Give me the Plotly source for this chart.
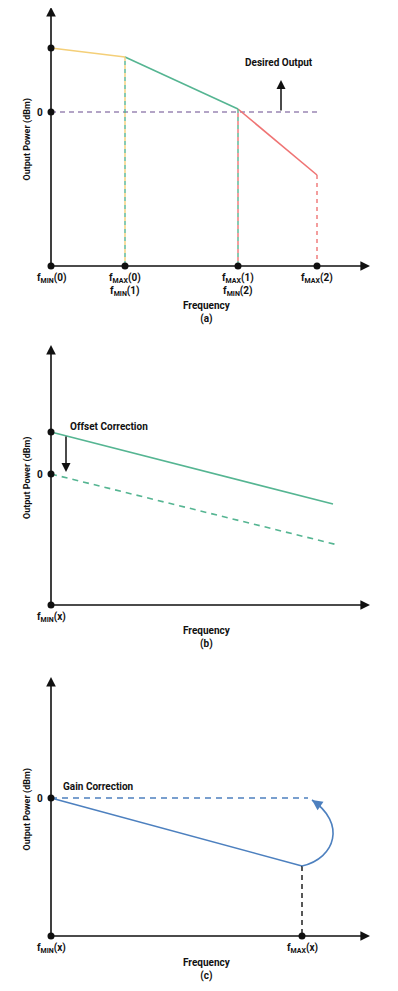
import plotly.graph_objects as go

# ---------------- data ----------------
# Panel (a): piecewise output power vs frequency band edges
freq_a = [0.0, 7.4, 18.7, 26.6]
power_a = [6.4, 5.5, 0.3, -6.3]
labels_a = ["f<sub>MIN</sub>(0)", "f<sub>MAX</sub>(0)<br>f<sub>MIN</sub>(1)",
            "f<sub>MAX</sub>(1)<br>f<sub>MIN</sub>(2)", "f<sub>MAX</sub>(2)"]
desired_level = 0.0
desired_end_a = 26.8
desired_arrow_x = 23.0
desired_arrow_top = 3.2

# Panel (b): offset correction
freq_b = [0.0, 28.2]
power_b = [4.2, -3.0]
freq_b_corr = [0.0, 28.7]
power_b_corr = [0.0, -7.1]
labels_b = ["f<sub>MIN</sub>(x)"]

# Panel (c): gain correction
freq_c = [0.0, 25.1]
power_c = [0.0, -6.8]
freq_c_target = [0.0, 25.7]
power_c_target = [0.0, 0.0]
labels_c = ["f<sub>MIN</sub>(x)", "f<sub>MAX</sub>(x)"]

# ---------------- layout constants ----------------
OFF = 8                     # page body margin
W, H = 398 - 2 * OFF, 991 - 2 * OFF
PX = 10.0                   # pixels per data unit
X0PX = 51 - OFF             # pixel x of frequency origin (figure coords)
XEND = 31.9                 # x-axis arrow tip
panels = [  # figure-pixel top, bottom, y of 0 dBm; axis bottom/top values
    dict(top=0, bot=330 - OFF, zero=112 - OFF, ybot=-15.4, ytop=10.5, name="(a)", tshift=-32),
    dict(top=330 - OFF, bot=660 - OFF, zero=474 - OFF, ybot=-13.1, ytop=12.9, name="(b)", tshift=-18),
    dict(top=660 - OFF, bot=H, zero=798 - OFF, ybot=-13.8, ytop=12.1, name="(c)", tshift=-19),
]

YELLOW = "#F4CF78"
GREEN = "#55B592"
RED = "#EF7474"
PURPLE = "#9A86B4"
BLUE = "#4D80BF"
BLACK = "#111111"
FONT = "Roboto"

fig = go.Figure()
annotations = []
shapes = []

for i, p in enumerate(panels):
    sfx = "" if i == 0 else str(i + 1)
    xa = "xaxis" + sfx
    ya = "yaxis" + sfx
    dom = [1 - p["bot"] / H, 1 - p["top"] / H]
    ylo = (p["zero"] - p["bot"]) / PX
    yhi = (p["zero"] - p["top"]) / PX
    fig.layout[xa] = dict(domain=[0, 1], range=[-X0PX / PX, (W - X0PX) / PX],
                          visible=False, fixedrange=True, anchor="y" + sfx)
    fig.layout[ya] = dict(domain=dom, range=[ylo, yhi], visible=False,
                          fixedrange=True, anchor="x" + sfx)
    xr, yr = "x" + sfx, "y" + sfx
    # axes with arrows
    annotations.append(dict(x=0, y=p["ytop"], ax=0, ay=p["ybot"], xref=xr, yref=yr,
                            axref=xr, ayref=yr, showarrow=True, arrowhead=2,
                            arrowsize=1.2, arrowwidth=1.6, arrowcolor=BLACK, text=""))
    annotations.append(dict(x=XEND, y=p["ybot"], ax=0, ay=p["ybot"], xref=xr, yref=yr,
                            axref=xr, ayref=yr, showarrow=True, arrowhead=2,
                            arrowsize=1.2, arrowwidth=1.6, arrowcolor=BLACK, text=""))
    # y title
    annotations.append(dict(x=-2.4, y=(p["ytop"] + p["ybot"]) / 2 - 0.3, xref=xr, yref=yr,
                            text="<b>Output Power (dBm)</b>", textangle=-90, showarrow=False,
                            font=dict(family=FONT, size=9, color=BLACK)))
    # "0" label
    annotations.append(dict(x=-0.6, y=0, xref=xr, yref=yr, text="<b>0</b>", showarrow=False,
                            xanchor="right", font=dict(family=FONT, size=10, color=BLACK)))
    # x title
    annotations.append(dict(x=15.6, y=p["ybot"], xref=xr, yref=yr,
                            text="<b>Frequency</b><br><b>" + p["name"] + "</b>", showarrow=False,
                            yanchor="top", yshift=p["tshift"],
                            font=dict(family=FONT, size=10, color=BLACK)))

def add_line(xs, ys, color, sfx, dash="solid", width=1.6):
    fig.add_trace(go.Scatter(x=xs, y=ys, mode="lines", xaxis="x" + sfx, yaxis="y" + sfx,
                             line=dict(color=color, width=width, dash=dash),
                             hoverinfo="skip", showlegend=False))

def add_dots(xs, ys, sfx):
    fig.add_trace(go.Scatter(x=xs, y=ys, mode="markers", xaxis="x" + sfx, yaxis="y" + sfx,
                             marker=dict(color=BLACK, size=7), hoverinfo="skip",
                             showlegend=False))

def tick_label(xv, yv, text, sfx):
    annotations.append(dict(x=xv, y=yv, xref="x" + sfx, yref="y" + sfx,
                            text="<b>" + text.replace("<br>", "</b><br><b>") + "</b>",
                            showarrow=False, yanchor="top", yshift=-4,
                            font=dict(family=FONT, size=10, color=BLACK)))

DASH_A = "4px,4px"
DASH_B = "0px,4px,4px,0px"

# ---------------- panel (a) ----------------
pa = panels[0]
add_line([freq_a[0], desired_end_a], [desired_level, desired_level], PURPLE, "", dash="5px,4px", width=1.4)
seg_colors = [YELLOW, GREEN, RED]
for k in range(3):
    add_line(freq_a[k:k + 2], power_a[k:k + 2], seg_colors[k], "")
vert_pairs = [(YELLOW, GREEN), (GREEN, RED), (RED, RED)]
for k in range(1, 4):
    c1, c2 = vert_pairs[k - 1]
    add_line([freq_a[k], freq_a[k]], [power_a[k], pa["ybot"]], c1, "", dash=DASH_A, width=1.4)
    if c2 != c1:
        add_line([freq_a[k], freq_a[k]], [power_a[k], pa["ybot"]], c2, "", dash=DASH_B, width=1.4)
add_dots([0, 0] + freq_a, [power_a[0], desired_level] + [pa["ybot"]] * 4, "")
for k, lab in enumerate(labels_a):
    tick_label(freq_a[k], pa["ybot"], lab, "")
annotations.append(dict(x=desired_arrow_x, y=desired_arrow_top, ax=desired_arrow_x,
                        ay=desired_level, xref="x", yref="y", axref="x", ayref="y",
                        showarrow=True, arrowhead=2, arrowsize=1.2, arrowwidth=1.5,
                        arrowcolor=BLACK, text=""))
annotations.append(dict(x=desired_arrow_x - 0.2, y=desired_arrow_top + 1.0, xref="x", yref="y",
                        text="<b>Desired Output</b>", showarrow=False, yanchor="bottom",
                        font=dict(family=FONT, size=10, color=BLACK)))

# ---------------- panel (b) ----------------
pb = panels[1]
add_line(freq_b_corr, power_b_corr, GREEN, "2", dash="6px,5px", width=1.6)
add_line(freq_b, power_b, GREEN, "2")
add_dots([0, 0, 0], [power_b[0], 0, pb["ybot"]], "2")
tick_label(0, pb["ybot"], labels_b[0], "2")
annotations.append(dict(x=1.5, y=0.2, ax=1.5, ay=power_b[0] - 0.3, xref="x2", yref="y2",
                        axref="x2", ayref="y2", showarrow=True, arrowhead=2, arrowsize=1.2,
                        arrowwidth=1.5, arrowcolor=BLACK, text=""))
annotations.append(dict(x=1.7, y=4.8, xref="x2", yref="y2", text="<b>Offset Correction</b>",
                        showarrow=False, xanchor="left",
                        font=dict(family=FONT, size=10, color=BLACK)))

# ---------------- panel (c) ----------------
pc = panels[2]
add_line(freq_c_target, power_c_target, BLUE, "3", dash="6px,5px", width=1.6)
add_line(freq_c, power_c, BLUE, "3")
add_line([freq_c[1], freq_c[1]], [power_c[1], pc["ybot"]], BLACK, "3", dash="5px,4px", width=1.4)
add_dots([0, 0, freq_c[1]], [0, pc["ybot"], pc["ybot"]], "3")
for xv, lab in zip([0, freq_c[1]], labels_c):
    tick_label(xv, pc["ybot"], lab, "3")
# curved gain-correction arrow
x_s, y_s = freq_c[1], power_c[1]
x_e, y_e = freq_c_target[1] + 0.4, -0.2
shapes.append(dict(type="path", xref="x3", yref="y3",
                   path=f"M {x_s},{y_s} C {x_s + 3.4},{y_s + 0.8} {x_s + 4.4},{y_e - 2.3} {x_e},{y_e}",
                   line=dict(color=BLUE, width=1.6)))
annotations.append(dict(x=x_e, y=y_e, ax=x_e + 1.0, ay=y_e - 0.7, xref="x3", yref="y3",
                        axref="x3", ayref="y3", showarrow=True, arrowhead=2, arrowsize=1.3,
                        arrowwidth=1.6, arrowcolor=BLUE, text=""))
annotations.append(dict(x=1.0, y=1.2, xref="x3", yref="y3", text="<b>Gain Correction</b>",
                        showarrow=False, xanchor="left",
                        font=dict(family=FONT, size=10, color=BLACK)))

fig.update_layout(width=W, height=H, margin=dict(l=0, r=0, t=0, b=0),
                  paper_bgcolor="white", plot_bgcolor="white",
                  annotations=annotations, shapes=shapes, showlegend=False,
                  font=dict(family=FONT, color=BLACK))
fig.write_html("out.html", config={"displayModeBar": False})
